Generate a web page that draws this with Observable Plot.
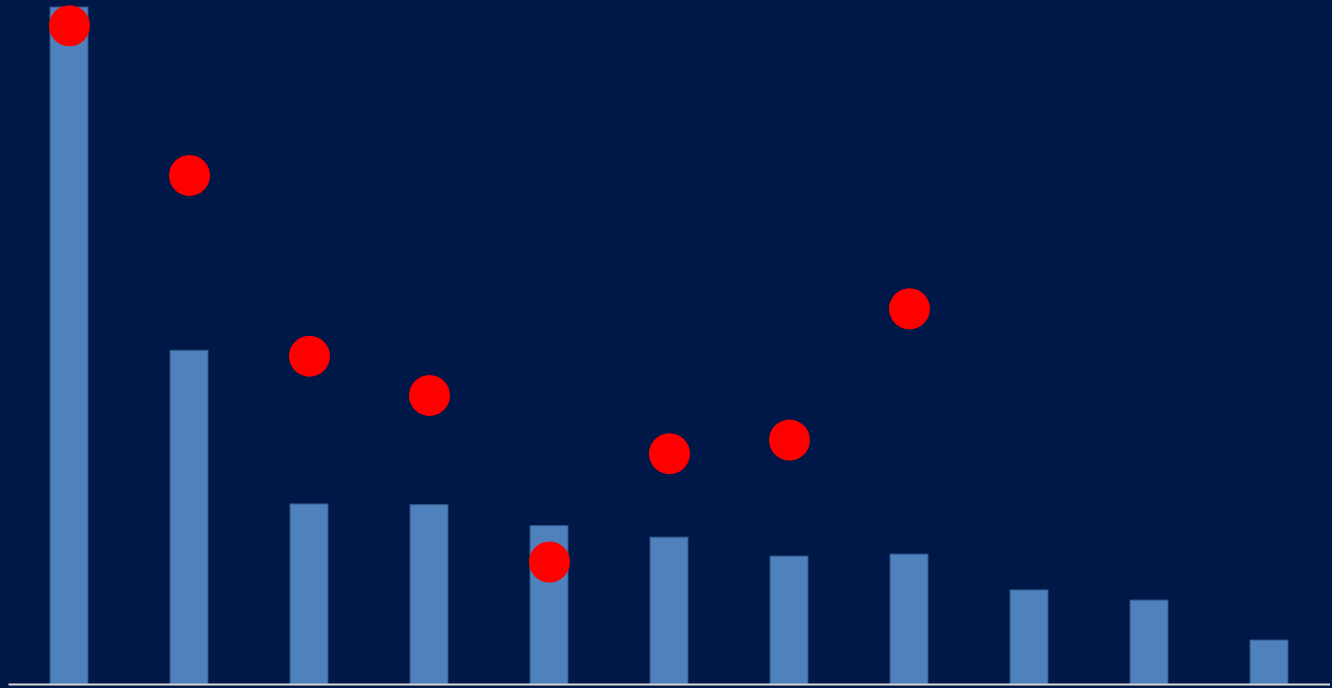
<!DOCTYPE html>
<html>
<head>
<meta charset="utf-8">
<script src="https://cdn.jsdelivr.net/npm/d3@7"></script>
<script src="https://cdn.jsdelivr.net/npm/@observablehq/plot@0.6"></script>
<style>
  html, body { margin: 0; padding: 0; background: #001847; overflow: hidden; }
  #chart svg { display: block; }
</style>
</head>
<body>
<div id="chart"></div>
<script>
const categories = ["1", "2", "3", "4", "5", "6", "7", "8", "9", "10", "11"];
const barValues = [100, 49.3, 26.6, 26.5, 23.4, 21.7, 18.9, 19.2, 13.9, 12.4, 6.5];
const dotCategories = ["1", "2", "3", "4", "5", "6", "7", "8"];
const dotValues = [97.3, 75.2, 48.5, 42.7, 18.1, 34.1, 36.1, 55.5];

const bars = categories.map((c, i) => ({ cat: c, value: barValues[i] }));
const dots = dotCategories.map((c, i) => ({ cat: c, value: dotValues[i] }));

const chart = Plot.plot({
  width: 1332,
  height: 688,
  marginLeft: 8.5,
  marginRight: 2,
  marginTop: 7,
  marginBottom: 4,
  style: { background: "#001847", overflow: "visible" },
  x: { type: "band", domain: categories, paddingInner: 0.687, paddingOuter: 0.344, axis: null },
  y: { domain: [0, 100], axis: null },
  marks: [
    Plot.barY(bars, { x: "cat", y: "value", fill: "#4f81bd", stroke: "#2f5486", strokeWidth: 1 }),
    Plot.ruleY([0], { stroke: "#d9d9d9", strokeWidth: 2 }),
    Plot.dot(dots, { x: "cat", y: "value", r: 20.5, fill: "#ff0000", stroke: "none" })
  ]
});
document.getElementById("chart").appendChild(chart);
</script>
</body>
</html>
